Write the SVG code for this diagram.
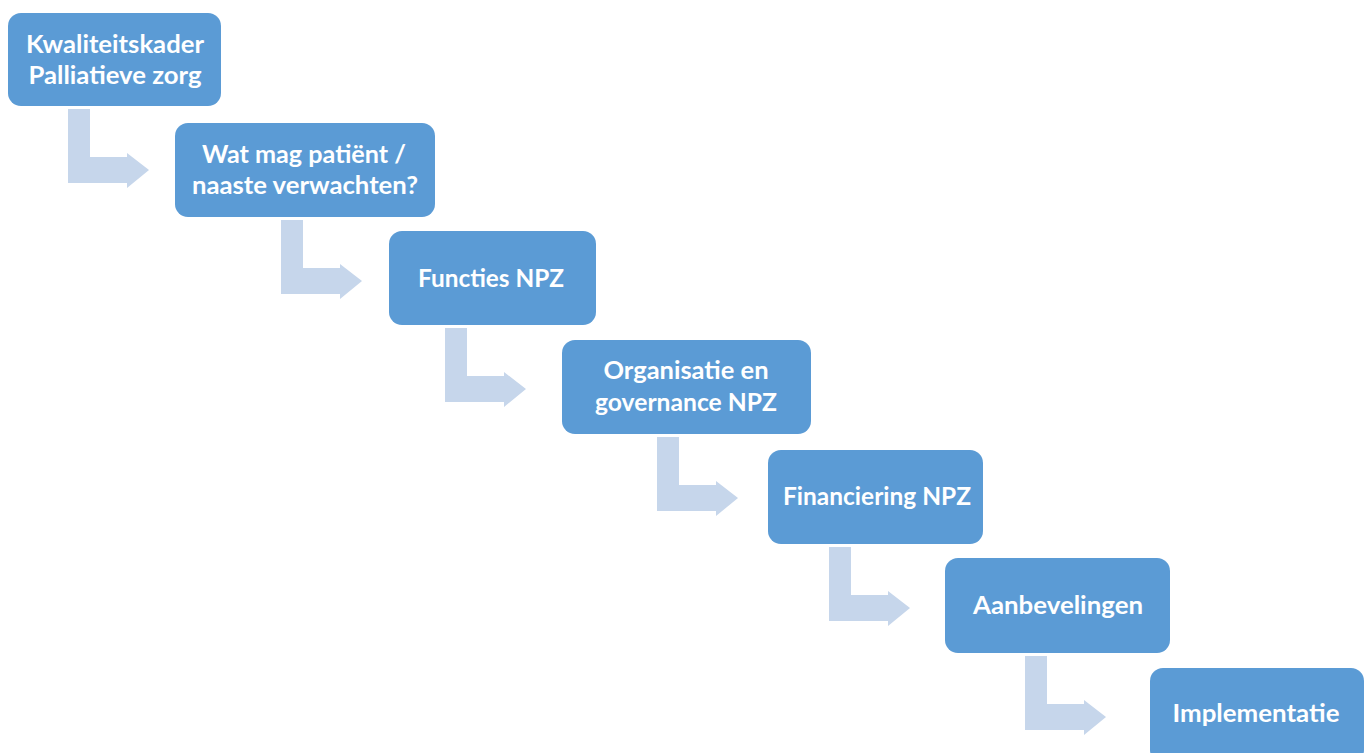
<svg xmlns="http://www.w3.org/2000/svg" width="1368" height="753" viewBox="0 0 1368 753">
  <style>
    .box { fill: #5B9BD5; }
    .arr { fill: #C6D6EB; }
    .lbl { font-family: Lato, "Liberation Sans", sans-serif; font-weight: bold; font-size: 25px; fill: #FFFFFF; text-anchor: middle; }
  </style>
  <defs>
    <path id="elbow" d="M0,0 H22 V48 H59 V44 L81,61 L59,79 V74 H0 Z"/>
  </defs>
  <rect width="1368" height="753" fill="#FFFFFF"/>
  <g id="connectors" class="arr">
    <use href="#elbow" transform="translate(68,109)"/>
    <use href="#elbow" transform="translate(281,220)"/>
    <use href="#elbow" transform="translate(445,328)"/>
    <use href="#elbow" transform="translate(657,437)"/>
    <use href="#elbow" transform="translate(829,547)"/>
    <use href="#elbow" transform="translate(1025,656)"/>
  </g>
  <g id="node-kwaliteitskader">
    <rect class="box" x="8" y="13" width="213" height="93" rx="13"/>
    <text class="lbl" x="115" y="53" textLength="178" lengthAdjust="spacingAndGlyphs">Kwaliteitskader</text>
    <text class="lbl" x="115" y="84" textLength="173" lengthAdjust="spacingAndGlyphs">Palliatieve zorg</text>
  </g>
  <g id="node-verwachten">
    <rect class="box" x="175" y="123" width="260" height="94" rx="13"/>
    <text class="lbl" x="304" y="163" textLength="204" lengthAdjust="spacingAndGlyphs">Wat mag patiënt /</text>
    <text class="lbl" x="305" y="194" textLength="226" lengthAdjust="spacingAndGlyphs">naaste verwachten?</text>
  </g>
  <g id="node-functies">
    <rect class="box" x="389" y="231" width="207" height="94" rx="13"/>
    <text class="lbl" x="491" y="287" textLength="146" lengthAdjust="spacingAndGlyphs">Functies NPZ</text>
  </g>
  <g id="node-organisatie">
    <rect class="box" x="562" y="340" width="249" height="94" rx="13"/>
    <text class="lbl" x="686" y="379" textLength="165" lengthAdjust="spacingAndGlyphs">Organisatie en</text>
    <text class="lbl" x="686" y="411" textLength="182" lengthAdjust="spacingAndGlyphs">governance NPZ</text>
  </g>
  <g id="node-financiering">
    <rect class="box" x="768" y="450" width="215" height="94" rx="13"/>
    <text class="lbl" x="877" y="505" textLength="188" lengthAdjust="spacingAndGlyphs">Financiering NPZ</text>
  </g>
  <g id="node-aanbevelingen">
    <rect class="box" x="945" y="558" width="225" height="95" rx="13"/>
    <text class="lbl" x="1058" y="614" textLength="170" lengthAdjust="spacingAndGlyphs">Aanbevelingen</text>
  </g>
  <g id="node-implementatie">
    <rect class="box" x="1150" y="668" width="214" height="95" rx="13"/>
    <text class="lbl" x="1256" y="722" textLength="167" lengthAdjust="spacingAndGlyphs">Implementatie</text>
  </g>
</svg>
